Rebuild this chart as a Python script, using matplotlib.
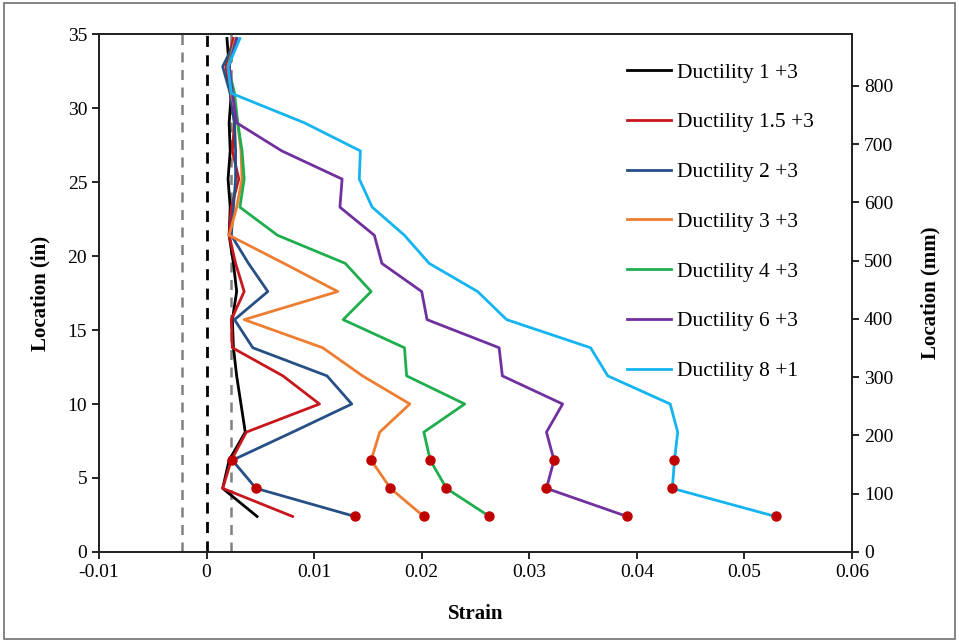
import matplotlib
matplotlib.use('Agg')
import matplotlib.pyplot as plt
from matplotlib.patches import Rectangle

plt.rcParams['font.family'] = ['Liberation Serif', 'DejaVu Serif']

# gauge locations (in)
loc = [2.4, 4.3, 6.2, 8.1, 10.0, 11.9, 13.8, 15.7, 17.6, 19.5, 21.4, 23.3,
       25.2, 27.1, 29.0, 31.0, 32.8, 34.7]

d1 = [0.0047, 0.0015, 0.0021, 0.0036, 0.0032, 0.0028, 0.0025, 0.0024, 0.0028,
      0.0025, 0.0021, 0.0022, 0.0020, 0.0022, 0.0021, 0.0023, 0.0021, 0.0019]
d15 = [0.0080, 0.0015, 0.0023, 0.0037, 0.0105, 0.0071, 0.0024, 0.0023, 0.0035,
       0.0027, 0.0021, 0.0023, 0.0030, 0.0024, 0.0026, 0.0022, 0.0018, 0.0025]
d2 = [0.0138, 0.0046, 0.0024, 0.0080, 0.0135, 0.0112, 0.0043, 0.0026, 0.0057,
      0.0039, 0.0023, 0.0025, 0.0027, 0.0027, 0.0026, 0.0022, 0.0015, 0.0028]
d3 = [0.0202, 0.0171, 0.0153, 0.0161, 0.0189, 0.0145, 0.0108, 0.0035, 0.0122,
      0.0072, 0.0021, 0.0028, 0.0033, 0.0032, 0.0029, 0.0023, 0.0020, 0.0027]
d4 = [0.0263, 0.0223, 0.0208, 0.0202, 0.0240, 0.0186, 0.0184, 0.0127, 0.0153,
      0.0129, 0.0066, 0.0031, 0.0035, 0.0033, 0.0029, 0.0026, 0.0020, 0.0028]
d6 = [0.0391, 0.0316, 0.0323, 0.0316, 0.0331, 0.0275, 0.0272, 0.0205, 0.0200,
      0.0163, 0.0156, 0.0124, 0.0126, 0.0070, 0.0028, 0.0024, 0.0021, 0.0028]
d8 = [0.0529, 0.0433, 0.0435, 0.0438, 0.0431, 0.0373, 0.0357, 0.0279, 0.0252,
      0.0207, 0.0184, 0.0154, 0.0142, 0.0143, 0.0091, 0.0023, 0.0020, 0.0031]

labels = ['Ductility 1 +3', 'Ductility 1.5 +3', 'Ductility 2 +3', 'Ductility 3 +3',
          'Ductility 4 +3', 'Ductility 6 +3', 'Ductility 8 +1']
colors = ['#000000', '#C8161D', '#264F86', '#ED7D31', '#1EAE4E', '#7030A0', '#14B4F0']
series = [d1, d15, d2, d3, d4, d6, d8]

# series with marked (red dot) gauges at the lowest three locations
marked = [d2, d3, d4, d6, d8]
n_marked = 3

yield_strain = 0.0023

xticks = [-0.01, 0, 0.01, 0.02, 0.03, 0.04, 0.05, 0.06]
xticklabels = ['-0.01', '0', '0.01', '0.02', '0.03', '0.04', '0.05', '0.06']

fig = plt.figure(figsize=(9.59, 6.42), dpi=100)
ax = fig.add_axes([0.1032, 0.1402, 0.7852, 0.8068])

ax.axvline(-yield_strain, color='#808080', ls=(0, (4, 3)), lw=1.8)
ax.axvline(0, color='black', ls=(0, (4, 3)), lw=2.0)
ax.axvline(yield_strain, color='#808080', ls=(0, (4, 3)), lw=1.8)

for s, c, lab in zip(series, colors, labels):
    ax.plot(s, loc, color=c, lw=2.0, label=lab)

for s in marked:
    ax.plot(s[:n_marked], loc[:n_marked], 'o', color='#C00000', ms=6.5, zorder=5)

ax.set_xlim(-0.01, 0.06)
ax.set_ylim(0, 35)
ax.set_xticks(xticks)
ax.set_xticklabels(xticklabels)
ax.set_yticks(range(0, 36, 5))
ax.tick_params(labelsize=14, direction='out', length=5, width=1.2)
ax.set_xlabel('Strain', fontsize=15, fontweight='bold', labelpad=17)
ax.set_ylabel('Location (in)', fontsize=15, fontweight='bold', labelpad=12)

ax2 = ax.twinx()
ax2.set_ylim(0, 35 * 25.4)
ax2.set_yticks(range(0, 801, 100))
ax2.tick_params(labelsize=14, direction='out', length=5, width=1.2)
ax2.set_ylabel('Location (mm)', fontsize=15, fontweight='bold', labelpad=20)

for a in (ax, ax2):
    for sp in a.spines.values():
        sp.set_linewidth(1.3)
        sp.set_color('#222222')

leg = ax.legend(loc='upper left', bbox_to_anchor=(0.701, 0.945), frameon=False,
                fontsize=15.5, labelspacing=1.38, handlelength=2.05,
                handletextpad=0.3, borderaxespad=0, borderpad=0)

fig.patches.append(Rectangle((0.004, 0.005), 0.992, 0.99, transform=fig.transFigure,
                             fill=False, edgecolor='#707070', lw=1.2))

fig.savefig('out.png', dpi=100)
